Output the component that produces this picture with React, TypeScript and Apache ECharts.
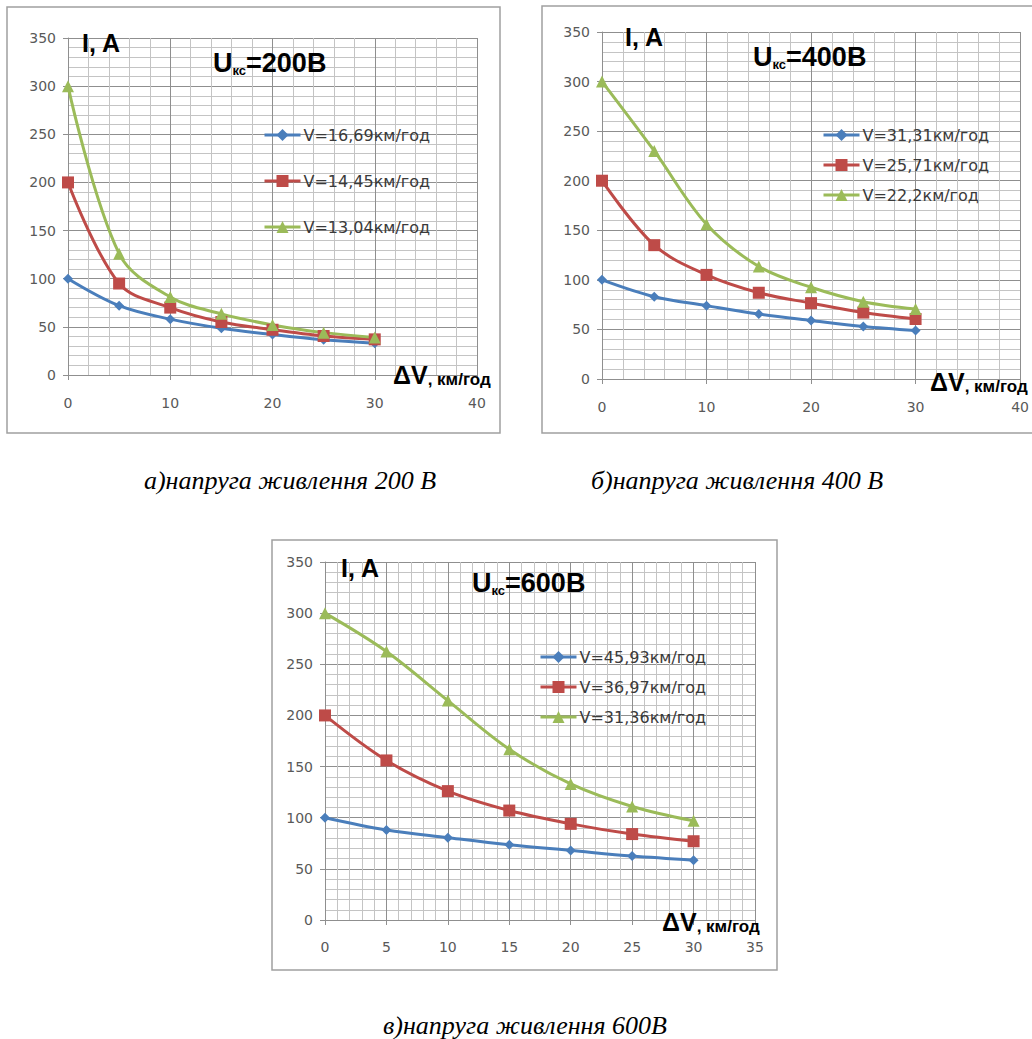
import React, { useEffect, useRef } from "react";
import * as echarts from "echarts";

// Speed drop ΔV, km/h (common x values for every curve)
const deltaV = [0, 5, 10, 15, 20, 25, 30];

// Supply voltage 200 V
const names200 = ["V=16,69км/год", "V=14,45км/год", "V=13,04км/год"];
const blue200 = [100, 72, 58, 48.5, 42, 36.5, 33];
const red200 = [200, 95, 70, 55, 47, 40.5, 37];
const green200 = [300, 126, 81, 63.5, 52, 44, 39];

// Supply voltage 400 V
const names400 = ["V=31,31км/год", "V=25,71км/год", "V=22,2км/год"];
const blue400 = [100, 83, 74, 65.5, 59, 53, 49];
const red400 = [200, 135, 105, 87, 76.5, 67, 60.5];
const green400 = [300, 230, 156, 113.5, 92.5, 78, 70.5];

// Supply voltage 600 V
const names600 = ["V=45,93км/год", "V=36,97км/год", "V=31,36км/год"];
const blue600 = [100, 88, 80.5, 73.5, 68, 62.5, 58.5];
const red600 = [200, 156, 126, 107, 94, 84, 77];
const green600 = [300, 262.5, 214.5, 167, 133, 111, 97];

// Axis ranges: [min, max, step]
const yRange = [0, 350, 50];
const xRangeAB = [0, 40, 10];
const xRangeC = [0, 35, 5];

const voltages = ["200", "400", "600"];
const captions = [
  "а)напруга живлення 200 В",
  "б)напруга живлення 400 В",
  "в)напруга живлення 600В",
];

const BLUE = "#4A7EBB";
const RED = "#BE4B48";
const GREEN = "#9BBB59";
const MAJOR = "#8f8f8f";
const MINOR = "#c4c4c4";
const LABEL_FONT = "DejaVu Sans";
const BOLD_FONT = "Liberation Sans";

function axisPair(idx: number, xr: number[], labelMargin: number) {
  const common = {
    gridIndex: idx,
    type: "value" as const,
    axisLine: { show: true, lineStyle: { color: MAJOR, width: 1 } },
    axisTick: { show: true, inside: false, length: 5, lineStyle: { color: MAJOR } },
    splitLine: { show: true, lineStyle: { color: MAJOR, width: 1 } },
    minorTick: { show: false, splitNumber: 5 },
    minorSplitLine: { show: true, lineStyle: { color: MINOR, width: 1 } },
  };
  return {
    x: {
      ...common,
      min: xr[0],
      max: xr[1],
      interval: xr[2],
      axisLabel: {
        margin: labelMargin,
        color: "#595959",
        fontFamily: LABEL_FONT,
        fontSize: 14,
      },
    },
    y: {
      ...common,
      min: yRange[0],
      max: yRange[1],
      interval: yRange[2],
      axisLabel: {
        margin: 12,
        color: "#595959",
        fontFamily: LABEL_FONT,
        fontSize: 14,
      },
    },
  };
}

function lineSeries(name: string, values: number[], idx: number, color: string, symbol: string, size: number) {
  return {
    name,
    type: "line" as const,
    xAxisIndex: idx,
    yAxisIndex: idx,
    data: deltaV.map((x, i) => [x, values[i]]),
    smooth: 0.35,
    symbol,
    symbolSize: size,
    lineStyle: { color, width: 3 },
    itemStyle: { color },
    z: 3,
  };
}

function titleText(v: string, x: number, y: number) {
  return {
    type: "text",
    x,
    y,
    z: 10,
    style: {
      text: `{u|U}{s|кс}{u|=${v}В}`,
      textVerticalAlign: "middle",
      rich: {
        u: { fontFamily: BOLD_FONT, fontWeight: "bold", fontSize: 27, lineHeight: 27, fill: "#000", verticalAlign: "bottom" },
        s: { fontFamily: BOLD_FONT, fontWeight: "bold", fontSize: 13, lineHeight: 15, fill: "#000", verticalAlign: "bottom" },
      },
    },
  };
}

function iaText(x: number, y: number) {
  return {
    type: "text",
    x,
    y,
    z: 10,
    style: {
      text: "I, A",
      fill: "#000",
      font: `bold 25px "${BOLD_FONT}"`,
      textVerticalAlign: "middle",
    },
  };
}

function dvText(x: number, y: number) {
  return {
    type: "text",
    x,
    y,
    z: 10,
    style: {
      text: "{d|ΔV}{k|, км/год}",
      textVerticalAlign: "middle",
      rich: {
        d: { fontFamily: BOLD_FONT, fontWeight: "bold", fontSize: 25, lineHeight: 25, fill: "#000", verticalAlign: "bottom" },
        k: { fontFamily: BOLD_FONT, fontWeight: "bold", fontSize: 17, lineHeight: 19, fill: "#000", verticalAlign: "bottom" },
      },
    },
  };
}

function captionText(text: string, x: number, y: number) {
  return {
    type: "text",
    x,
    y,
    style: {
      text,
      fill: "#000",
      font: `italic 26px "Liberation Serif"`,
      textAlign: "center",
      textVerticalAlign: "middle",
    },
  };
}

function frame(x: number, y: number, w: number, h: number) {
  return {
    type: "rect",
    shape: { x, y, width: w, height: h },
    z: -1,
    style: { fill: "#fff", stroke: "#a0a0a0", lineWidth: 1.5 },
  };
}

function legendBlock(names: string[], left: number, top: number, gap: number) {
  return {
    data: names,
    orient: "vertical" as const,
    left,
    top,
    itemWidth: 36,
    itemHeight: 15,
    itemGap: gap,
    padding: 0,
    lineStyle: { width: 3 },
    textStyle: { fontFamily: LABEL_FONT, fontSize: 16, color: "#3a3a3a", padding: [0, 0, 0, -2] },
  };
}

export default function App() {
  const ref = useRef<HTMLDivElement>(null);

  useEffect(() => {
    document.body.style.margin = "0";
    const chart = echarts.init(ref.current!, null, { renderer: "svg" });

    const a = axisPair(0, xRangeAB, 21);
    const b = axisPair(1, xRangeAB, 21);
    const c = axisPair(2, xRangeC, 20);

    const option = {
      animation: false,
      backgroundColor: "#fff",
      grid: [
        { left: 68, top: 38, width: 409, height: 337 },
        { left: 602, top: 32, width: 421, height: 347 },
        { left: 325, top: 562, width: 430, height: 358 },
      ],
      xAxis: [a.x, b.x, c.x],
      yAxis: [a.y, b.y, c.y],
      legend: [
        legendBlock(names200, 263, 127, 30),
        legendBlock(names400, 822, 127, 14),
        legendBlock(names600, 539, 649, 14),
      ],
      series: [
        lineSeries(names200[0], blue200, 0, BLUE, "diamond", 10),
        lineSeries(names200[1], red200, 0, RED, "rect", 12),
        lineSeries(names200[2], green200, 0, GREEN, "triangle", 12),
        lineSeries(names400[0], blue400, 1, BLUE, "diamond", 10),
        lineSeries(names400[1], red400, 1, RED, "rect", 12),
        lineSeries(names400[2], green400, 1, GREEN, "triangle", 12),
        lineSeries(names600[0], blue600, 2, BLUE, "diamond", 10),
        lineSeries(names600[1], red600, 2, RED, "rect", 12),
        lineSeries(names600[2], green600, 2, GREEN, "triangle", 12),
      ],
      graphic: [
        frame(7, 7, 493, 426),
        frame(542, 6, 500, 427),
        frame(272, 540, 505, 430),
        iaText(82, 43),
        iaText(625, 37),
        iaText(341, 568),
        titleText(voltages[0], 213, 63),
        titleText(voltages[1], 753, 57),
        titleText(voltages[2], 472, 583),
        dvText(393, 375),
        dvText(930, 382),
        dvText(662, 922),
        captionText(captions[0], 290, 480),
        captionText(captions[1], 737, 480),
        captionText(captions[2], 525, 1025),
      ],
    };

    chart.setOption(option);
    return () => chart.dispose();
  }, []);

  return (
    <div
      ref={ref}
      style={{ position: "absolute", left: 0, top: 0, width: 1032, height: 1039, background: "#fff" }}
    />
  );
}
